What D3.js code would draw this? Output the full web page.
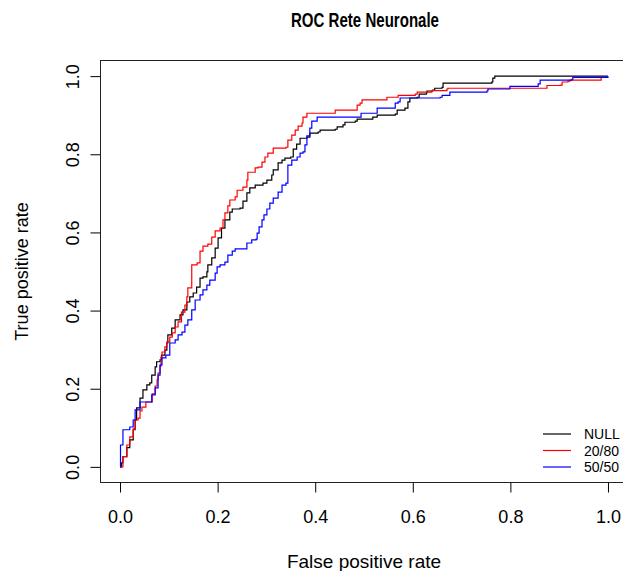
<!DOCTYPE html>
<html>
<head>
<meta charset="UTF-8">
<title>ROC Rete Neuronale</title>
<script src="https://cdn.jsdelivr.net/npm/d3@7/dist/d3.min.js"></script>
<style>
body { margin: 0; background: #fff; }
svg { font-family: "Liberation Sans", Arial, sans-serif; }
</style>
</head>
<body>
<div id="chart"></div>
<script>
// series (false positive rate / true positive rate)
var seriesNames  = ["NULL", "20/80", "50/50"];
var seriesColors = ["black", "red", "blue"];

var nullFpr = [0,0.003,0.006,0.014,0.020,0.027,0.031,0.034,0.041,0.047,0.055,0.061,0.065,0.072,0.075,0.082,0.085,0.092,0.096,0.098,0.106,0.113,0.123,0.129,0.137,0.143,0.150,0.157,0.164,0.170,0.178,0.180,0.188,0.195,0.201,0.208,0.215,0.225,0.230,0.246,0.252,0.260,0.266,0.277,0.293,0.301,0.311,0.314,0.324,0.332,0.338,0.350,0.355,0.362,0.369,0.383,0.389,0.406,0.410,0.441,0.445,0.457,0.461,0.482,0.486,0.514,0.518,0.527,0.564,0.568,0.584,0.590,0.594,0.609,0.613,0.628,0.629,0.641,0.645,0.660,0.662,0.762,0.764,0.768,1.0];
var nullTpr = [0,0.010,0.026,0.049,0.069,0.095,0.120,0.151,0.176,0.197,0.210,0.215,0.235,0.256,0.269,0.274,0.286,0.299,0.317,0.338,0.355,0.376,0.389,0.402,0.422,0.435,0.445,0.460,0.483,0.486,0.499,0.517,0.535,0.560,0.586,0.611,0.632,0.652,0.660,0.662,0.680,0.701,0.714,0.721,0.726,0.734,0.747,0.760,0.778,0.785,0.790,0.793,0.813,0.826,0.841,0.844,0.854,0.857,0.862,0.864,0.870,0.875,0.882,0.885,0.890,0.890,0.895,0.900,0.903,0.913,0.918,0.934,0.944,0.946,0.954,0.957,0.962,0.964,0.969,0.971,0.982,0.985,0.995,1.0,1.0];

var redFpr = [0,0.006,0.014,0.020,0.027,0.031,0.037,0.041,0.045,0.053,0.064,0.066,0.072,0.076,0.078,0.082,0.084,0.086,0.092,0.096,0.102,0.107,0.113,0.119,0.126,0.133,0.137,0.139,0.147,0.158,0.164,0.170,0.180,0.188,0.195,0.205,0.211,0.215,0.221,0.225,0.236,0.240,0.252,0.260,0.262,0.277,0.283,0.291,0.297,0.303,0.314,0.340,0.344,0.352,0.359,0.365,0.373,0.375,0.383,0.439,0.441,0.484,0.486,0.492,0.496,0.545,0.547,0.570,0.605,0.609,0.639,0.670,0.672,0.875,0.875,0.902,0.906,0.918,0.922,0.984,0.986];
var redTpr = [0,0.026,0.056,0.077,0.097,0.120,0.125,0.143,0.153,0.166,0.166,0.187,0.207,0.223,0.240,0.258,0.281,0.294,0.307,0.320,0.332,0.343,0.358,0.371,0.396,0.414,0.435,0.458,0.517,0.522,0.552,0.565,0.570,0.588,0.604,0.611,0.632,0.650,0.668,0.683,0.691,0.708,0.716,0.734,0.754,0.765,0.767,0.780,0.793,0.803,0.816,0.818,0.836,0.849,0.862,0.872,0.880,0.895,0.905,0.905,0.913,0.913,0.926,0.931,0.939,0.939,0.946,0.951,0.954,0.959,0.963,0.967,0.969,0.969,0.976,0.977,0.985,0.987,0.990,0.990,0.995];

var blueFpr = [0,0.001,0.006,0.020,0.027,0.031,0.041,0.061,0.065,0.072,0.078,0.082,0.086,0.094,0.102,0.113,0.119,0.127,0.133,0.139,0.147,0.154,0.164,0.170,0.178,0.184,0.195,0.199,0.205,0.215,0.221,0.230,0.236,0.258,0.260,0.270,0.279,0.281,0.285,0.291,0.295,0.301,0.307,0.314,0.324,0.332,0.340,0.344,0.352,0.363,0.369,0.375,0.379,0.383,0.389,0.393,0.404,0.492,0.494,0.527,0.527,0.559,0.564,0.570,0.574,0.656,0.660,0.676,0.676,0.752,0.754,0.799,0.799,0.857,0.861,0.926,0.928,1.0];
var blueTpr = [0,0.056,0.095,0.102,0.120,0.146,0.166,0.166,0.184,0.202,0.235,0.261,0.279,0.286,0.317,0.325,0.338,0.345,0.363,0.376,0.402,0.427,0.440,0.453,0.465,0.478,0.496,0.512,0.517,0.524,0.542,0.552,0.558,0.558,0.573,0.581,0.583,0.598,0.614,0.632,0.645,0.660,0.675,0.688,0.703,0.721,0.726,0.772,0.785,0.793,0.803,0.806,0.824,0.847,0.867,0.885,0.895,0.895,0.905,0.905,0.918,0.918,0.931,0.934,0.944,0.946,0.951,0.954,0.959,0.962,0.967,0.967,0.974,0.980,0.990,0.992,0.997,1.0];

var xTicks = [0, 0.2, 0.4, 0.6, 0.8, 1.0];
var yTicks = [0, 0.2, 0.4, 0.6, 0.8, 1.0];

var width = 623, height = 571;
var plotLeft = 100.5, plotRight = 627.5, plotTop = 60.5, plotBottom = 482.5;

var svg = d3.select("#chart").append("svg")
    .attr("width", width)
    .attr("height", height);

// R style axes: 4% padding around [0,1]
var x = d3.scaleLinear().domain([-0.04, 1.04]).range([plotLeft, plotRight]);
var y = d3.scaleLinear().domain([-0.04, 1.04]).range([plotBottom, plotTop]);

// title looks like a narrow bold face, squeeze it to the same width
svg.append("text")
    .attr("x", 365)
    .attr("y", 27)
    .attr("text-anchor", "middle")
    .attr("textLength", 148)
    .attr("lengthAdjust", "spacingAndGlyphs")
    .style("font-size", "20px")
    .style("font-weight", "bold")
    .text("ROC Rete Neuronale");

// curves
var series = [
    d3.zip(nullFpr, nullTpr),
    d3.zip(redFpr, redTpr),
    d3.zip(blueFpr, blueTpr)
];

var line = d3.line()
    .x(function (d) { return x(d[0]); })
    .y(function (d) { return y(d[1]); })
    .curve(d3.curveStepAfter);

svg.selectAll(".roc")
    .data(series)
    .enter()
    .append("path")
    .attr("class", "roc")
    .attr("d", line)
    .attr("fill", "none")
    .attr("stroke", function (d, i) { return seriesColors[i]; })
    .attr("stroke-width", 1.2);

// box
svg.append("rect")
    .attr("x", plotLeft)
    .attr("y", plotTop)
    .attr("width", plotRight - plotLeft)
    .attr("height", plotBottom - plotTop)
    .attr("fill", "none")
    .attr("stroke", "#222")
    .attr("stroke-width", 1);

var xAxis = svg.append("g")
    .attr("transform", "translate(0," + plotBottom + ")")
    .call(d3.axisBottom(x).tickValues(xTicks).tickSize(10).tickPadding(18)
        .tickFormat(d3.format(".1f")));
xAxis.select(".domain").remove();
xAxis.selectAll("text")
    .style("font-size", "18px")
    .style("font-family", "Liberation Sans, Arial, sans-serif");

var yAxis = svg.append("g")
    .attr("transform", "translate(" + plotLeft + ",0)")
    .call(d3.axisLeft(y).tickValues(yTicks).tickSize(10)
        .tickFormat(d3.format(".1f")));
yAxis.select(".domain").remove();
yAxis.selectAll("text")
    .attr("transform", "rotate(-90)")
    .attr("x", 0)
    .attr("y", -22)
    .attr("dy", 0)
    .style("text-anchor", "middle")
    .style("font-size", "18px")
    .style("font-family", "Liberation Sans, Arial, sans-serif");

svg.append("text")
    .attr("x", 364)
    .attr("y", 568)
    .attr("text-anchor", "middle")
    .style("font-size", "19px")
    .text("False positive rate");

svg.append("text")
    .attr("transform", "translate(28," + ((plotTop + plotBottom) / 2) + ") rotate(-90)")
    .attr("text-anchor", "middle")
    .style("font-size", "18px")
    .text("True positive rate");

// legend, bottom right, no frame
var legend = svg.append("g").attr("class", "legend");
var rows = legend.selectAll("g")
    .data(seriesNames)
    .enter()
    .append("g")
    .attr("transform", function (d, i) { return "translate(543," + (434 + i * 16.5) + ")"; });
rows.append("line")
    .attr("x1", 0).attr("x2", 28)
    .attr("y1", 0).attr("y2", 0)
    .attr("stroke", function (d, i) { return seriesColors[i]; })
    .attr("stroke-width", 1.2);
rows.append("text")
    .attr("x", 41)
    .attr("y", 5)
    .style("font-size", "14px")
    .text(function (d) { return d; });
</script>
</body>
</html>
